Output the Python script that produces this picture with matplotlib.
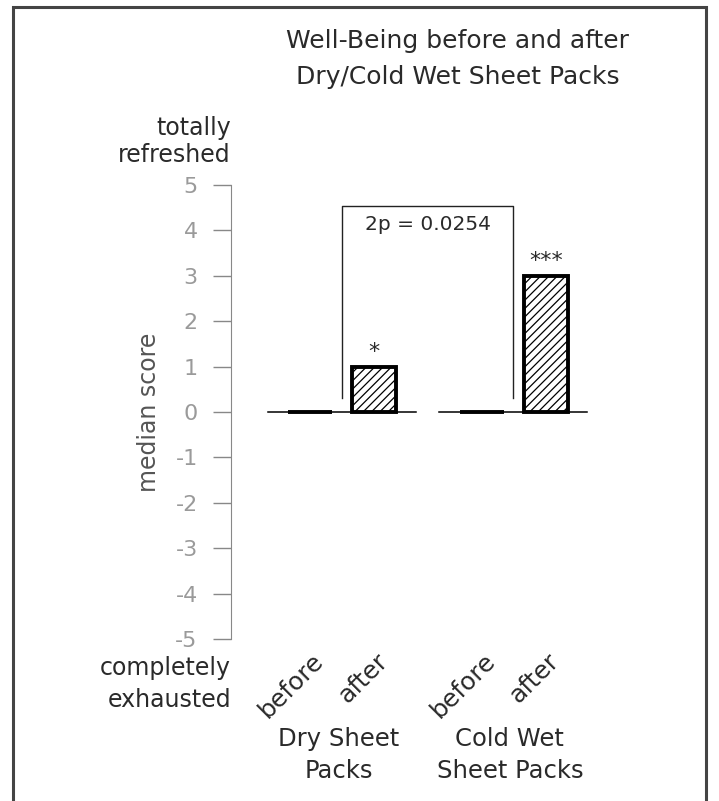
import numpy as np
import matplotlib.pyplot as plt
from matplotlib.patches import Rectangle
from matplotlib.transforms import ScaledTranslation

plt.rcParams['font.family'] = ['DejaVu Sans']
plt.rcParams['axes.unicode_minus'] = False
plt.rcParams['hatch.linewidth'] = 0.9

conditions = ["before", "after", "before", "after"]
medians = [0, 1, 0, 3]
stars = ["", "*", "", "***"]
groups = ["Dry Sheet\nPacks", "Cold Wet\nSheet Packs"]
yticks = [5, 4, 3, 2, 1, 0, -1, -2, -3, -4, -5]
p_text = "2p = 0.0254"

xpos = np.array([0, 1, 2.68, 3.68])
group_x = [0.5, 3.17]
txt = "#2a2a2a"

fig = plt.figure(figsize=(7.19, 8.01), dpi=100)
ax = fig.add_axes([231 / 719, 1 - 639 / 801, 389 / 719, 454 / 801])

# frame round the whole figure
fig.patches.append(Rectangle((13 / 719, -0.02), 693 / 719, 1 - 7 / 801 + 0.02,
                             transform=fig.transFigure, fill=False,
                             edgecolor="#444444", linewidth=2.2))

# baseline under each group
for gx in group_x:
    ax.plot([gx - 1.15, gx + 1.15], [0, 0], color="black", lw=1.1, zorder=1)

hatches = ["", "////", "", "////"]
for x, m, h in zip(xpos, medians, hatches):
    ax.bar(x, m, width=0.69, facecolor="white", edgecolor="black",
           linewidth=2.8, hatch=h, zorder=2)

for x, m, s in zip(xpos, medians, stars):
    if s:
        ax.text(x, m + 0.2, s, ha="center", va="baseline", fontsize=16, color=txt)

# significance bracket between the two "after" conditions
ax.plot([group_x[0], group_x[0], group_x[1], group_x[1]],
        [0.31, 4.54, 4.54, 0.31], color="#222222", lw=1.0)
ax.text(sum(group_x) / 2, 4.12, p_text, ha="center", va="center",
        fontsize=14.5, color=txt)

ax.set_xlim(-1.234, 4.84)
ax.set_ylim(-5, 5)
ax.set_yticks(yticks)
ax.set_yticklabels([str(t) for t in yticks], color="#9a9a9a", fontsize=16)
ax.tick_params(axis="y", length=13, width=1, color="#888888", pad=11)
ax.set_xticks(xpos)
ax.set_xticklabels(conditions, rotation=45, ha="right", va="center",
                   rotation_mode="anchor", fontsize=18, color=txt)
ax.tick_params(axis="x", length=0, pad=13)
shift = ScaledTranslation(10 / 100, 0, fig.dpi_scale_trans)
for lbl in ax.get_xticklabels():
    lbl.set_transform(lbl.get_transform() + shift)

for side in ["top", "right", "bottom"]:
    ax.spines[side].set_visible(False)
ax.spines["left"].set_color("#888888")

ax.set_ylabel("median score", fontsize=17, color="#555555")
ax.yaxis.set_label_coords(-0.18, 0.5)

ax.text(0, (639 - 116) / 454, "totally\nrefreshed", transform=ax.transAxes,
        ha="right", va="top", fontsize=17, color=txt, linespacing=1.15)
ax.text(0, (639 - 656) / 454, "completely\nexhausted", transform=ax.transAxes,
        ha="right", va="top", fontsize=17, color=txt, linespacing=1.4)

trans = ax.get_xaxis_transform()
for gx, g in zip(group_x, groups):
    ax.text(gx - 0.05, (639 - 727) / 454, g, transform=trans, ha="center",
            va="top", fontsize=17.5, color=txt, linespacing=1.42)

fig.text(458 / 719, 1 - 29 / 801, "Well-Being before and after\nDry/Cold Wet Sheet Packs",
         ha="center", va="top", fontsize=18, color=txt, linespacing=1.62)

fig.savefig("out.png", dpi=100)
